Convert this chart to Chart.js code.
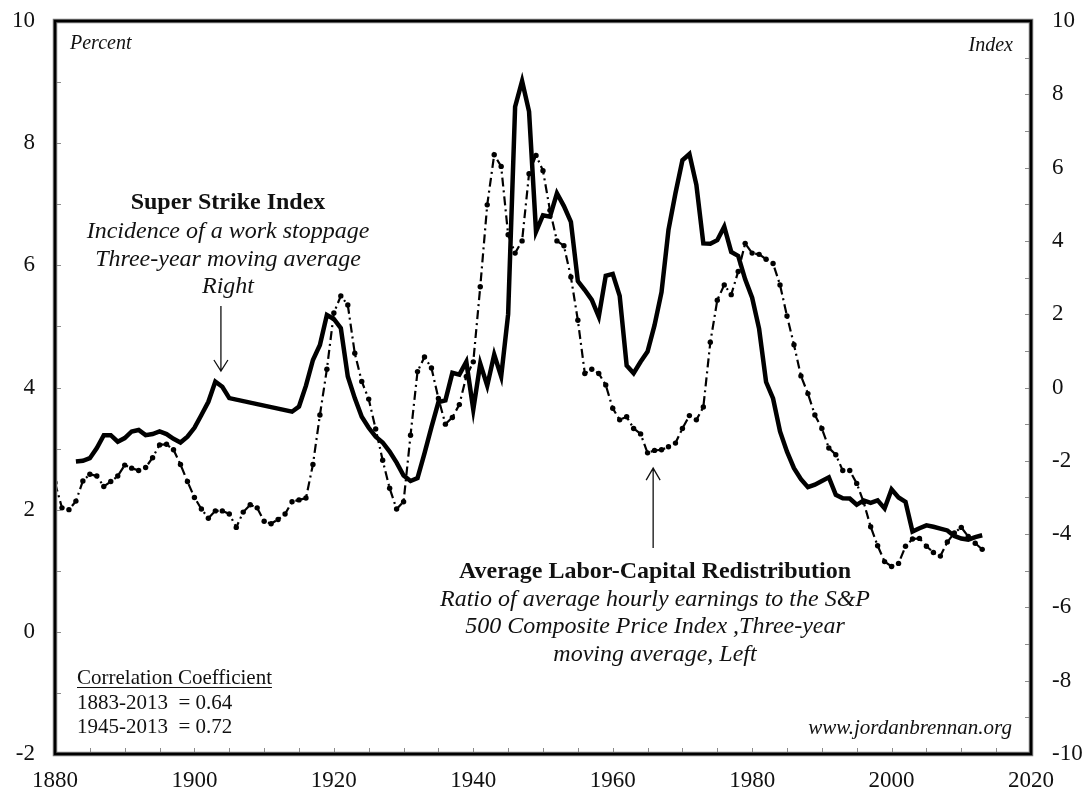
<!DOCTYPE html>
<html>
<head>
<meta charset="utf-8">
<script src="https://cdn.jsdelivr.net/npm/chart.js@4.4.0/dist/chart.umd.min.js"></script>
<style>
  body { margin: 0; background: #fff; }
  #wrap { width: 1086px; height: 795px; }
</style>
</head>
<body>
<div id="wrap"><canvas id="chart" width="1086" height="795"></canvas></div>
<script>
// years on the x axis
const years = [
  1880, 1881, 1882, 1883, 1884, 1885, 1886, 1887, 1888, 1889,
  1890, 1891, 1892, 1893, 1894, 1895, 1896, 1897, 1898, 1899,
  1900, 1901, 1902, 1903, 1904, 1905, 1906, 1907, 1908, 1909,
  1910, 1911, 1912, 1913, 1914, 1915, 1916, 1917, 1918, 1919,
  1920, 1921, 1922, 1923, 1924, 1925, 1926, 1927, 1928, 1929,
  1930, 1931, 1932, 1933, 1934, 1935, 1936, 1937, 1938, 1939,
  1940, 1941, 1942, 1943, 1944, 1945, 1946, 1947, 1948, 1949,
  1950, 1951, 1952, 1953, 1954, 1955, 1956, 1957, 1958, 1959,
  1960, 1961, 1962, 1963, 1964, 1965, 1966, 1967, 1968, 1969,
  1970, 1971, 1972, 1973, 1974, 1975, 1976, 1977, 1978, 1979,
  1980, 1981, 1982, 1983, 1984, 1985, 1986, 1987, 1988, 1989,
  1990, 1991, 1992, 1993, 1994, 1995, 1996, 1997, 1998, 1999,
  2000, 2001, 2002, 2003, 2004, 2005, 2006, 2007, 2008, 2009,
  2010, 2011, 2012, 2013
];

// Super Strike Index, three-year moving average (right axis, index)
const strikeIndex = [
  null, null, null, -2.02, -2.0, -1.93, -1.65, -1.3, -1.3, -1.48,
  -1.38, -1.2, -1.16, -1.3, -1.27, -1.2, -1.27, -1.4, -1.5, -1.34,
  -1.1, -0.75, -0.39, 0.16, 0.02, -0.29, null, null, null, null,
  null, null, null, null, -0.66, -0.52, 0.05, 0.75, 1.16, 1.98,
  1.87, 1.62, 0.3, -0.29, -0.8, -1.1, -1.34, -1.5, -1.75, -2.05,
  -2.4, -2.55, -2.47, -1.8, -1.08, -0.4, -0.35, 0.4, 0.35, 0.7,
  -0.6, 0.65, 0.05, 0.9, 0.3, 2.0, 7.66, 8.36, 7.53, 4.25,
  4.7, 4.66, 5.3, 4.95, 4.52, 2.9, 2.66, 2.39, 1.93, 3.05,
  3.1, 2.5, 0.6, 0.39, 0.7, 0.98, 1.7, 2.6, 4.3, 5.3,
  6.2, 6.37, 5.53, 3.93, 3.92, 4.02, 4.39, 3.7, 3.59, 2.95,
  2.45, 1.6, 0.15, -0.3, -1.2, -1.75, -2.2, -2.5, -2.72, -2.65,
  -2.55, -2.45, -2.93, -3.02, -3.03, -3.2, -3.08, -3.15, -3.08, -3.3,
  -2.78, -3.0, -3.12, -3.93, -3.84, -3.76, -3.8, -3.85, -3.9, -4.05,
  -4.12, -4.15, -4.08, -4.03
];

// Average labor-capital redistribution, three-year moving average (left axis, percent)
const laborCapital = [
  2.44, 2.03, 2.0, 2.14, 2.47, 2.58, 2.55, 2.38, 2.46, 2.55,
  2.73, 2.68, 2.64, 2.69, 2.85, 3.06, 3.07, 2.98, 2.74, 2.46,
  2.2, 2.01, 1.86, 1.98, 1.98, 1.93, 1.71, 1.96, 2.08, 2.03,
  1.81, 1.77, 1.84, 1.93, 2.13, 2.16, 2.19, 2.74, 3.55, 4.3,
  5.22, 5.5, 5.35, 4.56, 4.1, 3.81, 3.32, 2.81, 2.35, 2.01,
  2.13, 3.22, 4.26, 4.5, 4.32, 3.82, 3.4, 3.51, 3.72, 4.18,
  4.42, 5.65, 6.99, 7.81, 7.62, 6.5, 6.2, 6.4, 7.5, 7.8,
  7.55, 6.9, 6.4, 6.32, 5.81, 5.1, 4.23, 4.3, 4.23, 4.04,
  3.66, 3.47, 3.52, 3.33, 3.24, 2.93, 2.97, 2.98, 3.03, 3.09,
  3.33, 3.54, 3.47, 3.68, 4.74, 5.43, 5.68, 5.52, 5.9, 6.36,
  6.2, 6.18, 6.1, 6.03, 5.68, 5.17, 4.7, 4.19, 3.9, 3.55,
  3.33, 3.01, 2.9, 2.64, 2.64, 2.43, 2.12, 1.72, 1.41, 1.15,
  1.07, 1.12, 1.4, 1.52, 1.53, 1.4, 1.3, 1.24, 1.47, 1.62,
  1.71, 1.56, 1.45, 1.35
];

// axis tick labels
const xTicks = [1880, 1900, 1920, 1940, 1960, 1980, 2000, 2020];
const leftTicks = [-2, 0, 2, 4, 6, 8, 10];
const rightTicks = [-10, -8, -6, -4, -2, 0, 2, 4, 6, 8, 10];
// small inward tick marks
const xMinor = [1885, 1890, 1895, 1900, 1905, 1910, 1915, 1920, 1925, 1930, 1935, 1940, 1945, 1950,
  1955, 1960, 1965, 1970, 1975, 1980, 1985, 1990, 1995, 2000, 2005, 2010, 2015];
const leftMinor = [-1, 0, 1, 2, 3, 4, 5, 6, 7, 8, 9];
const rightMinor = [-9, -8, -7, -6, -5, -4, -3, -2, -1, 0, 1, 2, 3, 4, 5, 6, 7, 8, 9];

const SERIF = "'Liberation Serif', 'Times New Roman', serif";

function text(ctx, str, x, y, font, align) {
  ctx.font = font;
  ctx.textAlign = align || 'center';
  ctx.textBaseline = 'middle';
  ctx.fillStyle = '#111';
  ctx.fillText(str, x, y);
}

function arrow(ctx, x, y1, y2, head) {
  // line from y1 to tip y2
  const dir = y2 > y1 ? -1 : 1;
  ctx.beginPath();
  ctx.moveTo(x, y1);
  ctx.lineTo(x, y2);
  ctx.moveTo(x - 7, y2 + dir * head);
  ctx.lineTo(x, y2);
  ctx.lineTo(x + 7, y2 + dir * head);
  ctx.stroke();
}

// keep the plot box where it sits in the original, whatever the label sizes
function noPad(s) {
  s.paddingTop = 0;
  s.paddingBottom = 0;
  s.paddingLeft = 0;
  s.paddingRight = 0;
}

const decorations = {
  id: 'decorations',
  afterDraw(chart) {
    const ctx = chart.ctx;
    const a = chart.chartArea;
    const xs = chart.scales.x, yl = chart.scales.yLeft, yr = chart.scales.yRight;
    ctx.save();

    // inward tick marks
    ctx.strokeStyle = '#8c8c8c';
    ctx.lineWidth = 1;
    ctx.beginPath();
    leftMinor.forEach(v => { const y = Math.round(yl.getPixelForValue(v)) + 0.5; ctx.moveTo(a.left, y); ctx.lineTo(a.left + 6, y); });
    rightMinor.forEach(v => { const y = Math.round(yr.getPixelForValue(v)) + 0.5; ctx.moveTo(a.right - 6, y); ctx.lineTo(a.right, y); });
    xMinor.forEach(v => { const x = Math.round(xs.getPixelForValue(v)) + 0.5; ctx.moveTo(x, a.bottom); ctx.lineTo(x, a.bottom - 6); });
    ctx.stroke();

    // plot frame
    ctx.strokeStyle = '#777';
    ctx.lineWidth = 4.5;
    ctx.strokeRect(a.left, a.top, a.right - a.left, a.bottom - a.top);
    ctx.strokeStyle = '#000';
    ctx.lineWidth = 2.5;
    ctx.strokeRect(a.left, a.top, a.right - a.left, a.bottom - a.top);

    // axis unit labels
    text(ctx, 'Percent', 70, 44, 'italic 20px ' + SERIF, 'left');
    text(ctx, 'Index', 1013, 46, 'italic 20px ' + SERIF, 'right');

    // strike index label
    text(ctx, 'Super Strike Index', 228, 203, 'bold 24px ' + SERIF);
    text(ctx, 'Incidence of a work stoppage', 228, 232, 'italic 24px ' + SERIF);
    text(ctx, 'Three-year moving average', 228, 260, 'italic 24px ' + SERIF);
    text(ctx, 'Right', 228, 287, 'italic 24px ' + SERIF);

    // redistribution label
    text(ctx, 'Average Labor-Capital Redistribution', 655, 572, 'bold 24px ' + SERIF);
    text(ctx, 'Ratio of average hourly earnings to the S&P', 655, 600, 'italic 24px ' + SERIF);
    text(ctx, '500 Composite Price Index ,Three-year', 655, 627, 'italic 24px ' + SERIF);
    text(ctx, 'moving average, Left', 655, 655, 'italic 24px ' + SERIF);

    // arrows to the series
    ctx.strokeStyle = '#111';
    ctx.lineWidth = 1.3;
    arrow(ctx, xs.getPixelForValue(1903.8), 306, yr.getPixelForValue(0.45), 11);
    arrow(ctx, xs.getPixelForValue(1965.8), 548, yl.getPixelForValue(2.68), 12);

    // correlation box
    text(ctx, 'Correlation Coefficient', 77, 678, '21px ' + SERIF, 'left');
    const w = ctx.measureText('Correlation Coefficient').width;
    ctx.lineWidth = 1;
    ctx.beginPath();
    ctx.moveTo(77, 687.5);
    ctx.lineTo(77 + w, 687.5);
    ctx.stroke();
    text(ctx, '1883-2013  = 0.64', 77, 703, '21px ' + SERIF, 'left');
    text(ctx, '1945-2013  = 0.72', 77, 727, '21px ' + SERIF, 'left');

    text(ctx, 'www.jordanbrennan.org', 1012, 728, 'italic 21px ' + SERIF, 'right');
    ctx.restore();
  }
};

const ctx = document.getElementById('chart').getContext('2d');
new Chart(ctx, {
  type: 'line',
  data: {
    datasets: [
      {
        label: 'Super Strike Index',
        data: years.map((yr, i) => ({ x: yr, y: strikeIndex[i] })),
        yAxisID: 'yRight',
        borderColor: '#000',
        borderWidth: 4.5,
        borderJoinStyle: 'miter',
        pointRadius: 0,
        spanGaps: true,
        tension: 0
      },
      {
        label: 'Average Labor-Capital Redistribution',
        data: years.map((yr, i) => ({ x: yr, y: laborCapital[i] })),
        yAxisID: 'yLeft',
        borderColor: '#000',
        borderWidth: 2.2,
        borderDash: [9, 4, 2, 4],
        pointRadius: 2.7,
        pointBorderWidth: 0,
        pointBackgroundColor: '#000',
        tension: 0
      }
    ]
  },
  options: {
    responsive: false,
    animation: false,
    layout: { padding: { top: 21, left: 0, right: 0, bottom: 0 } },
    plugins: { legend: { display: false }, tooltip: { enabled: false } },
    scales: {
      x: {
        type: 'linear',
        min: 1880,
        max: 2020,
        afterBuildTicks: s => { s.ticks = xTicks.map(v => ({ value: v })); },
        afterFit: s => { s.height = 41; noPad(s); },
        grid: { display: false, drawTicks: false },
        border: { display: false },
        ticks: { autoSkip: false, maxRotation: 0, padding: 13, color: '#111', font: { family: SERIF, size: 23 },
          callback: v => String(v) }
      },
      yLeft: {
        position: 'left',
        min: -2,
        max: 10,
        afterBuildTicks: s => { s.ticks = leftTicks.map(v => ({ value: v })); },
        afterFit: s => { s.width = 55; noPad(s); },
        grid: { display: false, drawTicks: false },
        border: { display: false },
        ticks: { padding: 20, color: '#111', font: { family: SERIF, size: 23 } }
      },
      yRight: {
        position: 'right',
        min: -10,
        max: 10,
        afterBuildTicks: s => { s.ticks = rightTicks.map(v => ({ value: v })); },
        afterFit: s => { s.width = 55; noPad(s); },
        grid: { display: false, drawTicks: false },
        border: { display: false },
        ticks: { padding: 21, color: '#111', font: { family: SERIF, size: 23 } }
      }
    }
  },
  plugins: [decorations]
});
</script>
</body>
</html>
